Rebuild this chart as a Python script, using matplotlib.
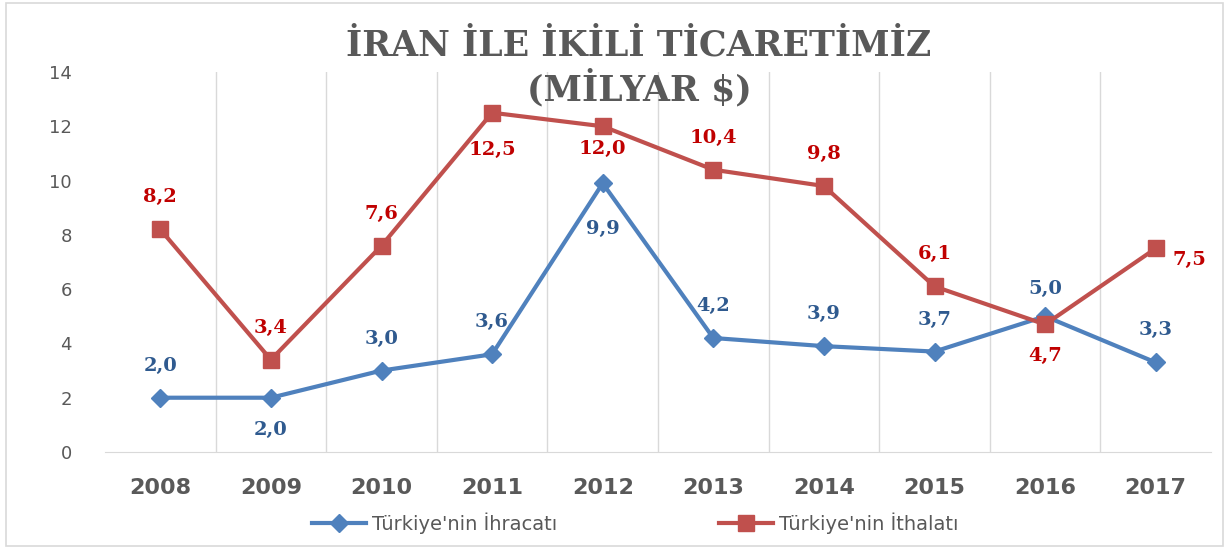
import numpy as np
import matplotlib.pyplot as plt
from matplotlib.patches import Rectangle

years = ['2008', '2009', '2010', '2011', '2012', '2013', '2014', '2015', '2016', '2017']
ihracat = [2.0, 2.0, 3.0, 3.6, 9.9, 4.2, 3.9, 3.7, 5.0, 3.3]
ithalat = [8.2, 3.4, 7.6, 12.5, 12.0, 10.4, 9.8, 6.1, 4.7, 7.5]

# label offsets in points (dx, dy) relative to each marker
ihr_off = [(0, 23), (0, -23), (0, 23), (0, 23), (0, -33), (0, 23), (0, 23), (0, 23), (0, 20), (0, 23)]
ith_off = [(0, 23), (0, 23), (0, 23), (0, -27), (0, -16), (0, 23), (0, 23), (0, 23), (0, -23), (24, -8)]

blue = '#4F81BD'
red = '#C0504D'
serif = 'DejaVu Serif'

fig = plt.figure(figsize=(12.29, 5.49), dpi=100)
fig.patches.append(Rectangle((0.005, 0.006), 0.99, 0.988, transform=fig.transFigure,
                             fill=False, edgecolor='#D9D9D9', linewidth=1.2))
ax = fig.add_axes([105 / 1229, 1 - 452 / 549, (1211 - 105) / 1229, 380 / 549])

x = np.arange(len(years))
ax.plot(x, ihracat, color=blue, linewidth=3, marker='D', markersize=9, label="Türkiye'nin İhracatı")
ax.plot(x, ithalat, color=red, linewidth=3, marker='s', markersize=11, label="Türkiye'nin İthalatı")

for xi, v, (dx, dy) in zip(x, ihracat, ihr_off):
    ax.annotate(f'{v:.1f}'.replace('.', ','), (xi, v), xytext=(dx, dy), textcoords='offset points',
                ha='center', va='center', color='#2F5A8F', fontsize=14, fontweight='bold', family=serif)
for xi, v, (dx, dy) in zip(x, ithalat, ith_off):
    ax.annotate(f'{v:.1f}'.replace('.', ','), (xi, v), xytext=(dx, dy), textcoords='offset points',
                ha='center', va='center', color='#C00000', fontsize=14, fontweight='bold', family=serif)

ax.set_xlim(-0.5, len(years) - 0.5)
ax.set_ylim(0, 14)
ax.set_yticks(range(0, 15, 2))
ax.set_xticks(x)
ax.set_xticklabels(years, fontsize=16, fontweight='bold', color='#595959')
ax.tick_params(axis='y', labelsize=13, labelcolor='#595959', length=0, pad=24)
ax.tick_params(axis='x', length=0, pad=19)
for b in np.arange(0.5, len(years) - 0.5, 1):
    ax.axvline(b, color='#D9D9D9', linewidth=1, zorder=0)
for s in ['top', 'right', 'left']:
    ax.spines[s].set_visible(False)
ax.spines['bottom'].set_color('#D9D9D9')

fig.text(0.52, 1 - 45 / 549, 'İRAN İLE İKİLİ TİCARETİMİZ', ha='center', va='center',
         fontsize=25, fontweight='bold', color='#595959', family=serif)
fig.text(0.52, 1 - 88 / 549, '(MİLYAR $)', ha='center', va='center',
         fontsize=25, fontweight='bold', color='#595959', family=serif)

fig.legend(loc='center', bbox_to_anchor=(635 / 1229, 1 - 523 / 549), ncol=2, frameon=False,
           fontsize=14, columnspacing=8.3, handlelength=2.8, handletextpad=0.3,
           labelcolor='#595959')

fig.savefig('out.png', dpi=100)
